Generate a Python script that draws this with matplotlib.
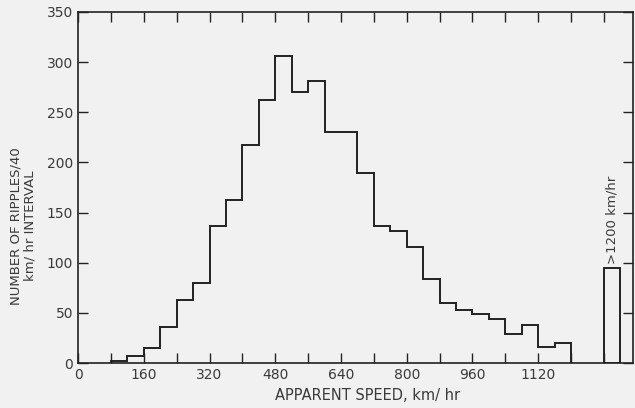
import matplotlib
matplotlib.use("Agg")
import matplotlib.pyplot as plt
import numpy as np

# Data
bin_edges = list(range(80, 1201, 40))
counts = [2, 7, 15, 36, 63, 80, 137, 163, 217, 262, 306, 270, 281, 230, 230,
          189, 137, 132, 116, 84, 60, 53, 49, 44, 29, 38, 16, 20]
overflow_label = ">1200 km/hr"
overflow_count = 95
overflow_center = 1300
overflow_width = 40

xticks_major = [0, 160, 320, 480, 640, 800, 960, 1120]
yticks = [0, 50, 100, 150, 200, 250, 300, 350]

bg = "#f1f1f1"
ink = "#222222"
txt = "#3a3a3a"

plt.rcParams['font.family'] = ['DejaVu Sans']
fig = plt.figure(figsize=(6.35, 4.08), dpi=100, facecolor=bg)
ax = fig.add_axes([0.123, 0.110, 0.874, 0.861], facecolor=bg)

ax.stairs(counts, bin_edges, baseline=0, color=ink, linewidth=1.4)
ax.bar(overflow_center, overflow_count, width=overflow_width, fill=False,
       edgecolor=ink, linewidth=1.4)
ax.text(overflow_center, overflow_count + 4, overflow_label, rotation=90,
        ha='center', va='bottom', fontsize=9.5, color=txt)

ax.set_xlim(0, 1351)
ax.set_ylim(0, 350)
ax.set_xticks(xticks_major)
ax.set_xticks(list(range(80, 1281, 80)), minor=True)
ax.set_yticks(yticks)

ax.tick_params(axis='both', which='both', direction='in', top=True, right=True,
               colors=ink, labelcolor=txt, labelsize=10, width=1.0)
ax.tick_params(axis='both', which='major', length=7)
ax.tick_params(axis='x', which='minor', length=7)
for s in ax.spines.values():
    s.set_linewidth(1.2)
    s.set_color(ink)

ax.set_xlabel("APPARENT SPEED, km/ hr", fontsize=10.5, color=txt)
ax.xaxis.set_label_coords(0.521, -0.07)
ax.set_ylabel("NUMBER OF RIPPLES/40\nkm/ hr INTERVAL", fontsize=9.5, color=txt,
              linespacing=1.1)
ax.yaxis.set_label_coords(-0.075, 0.39)

fig.savefig("out.png", dpi=100, facecolor=bg)
